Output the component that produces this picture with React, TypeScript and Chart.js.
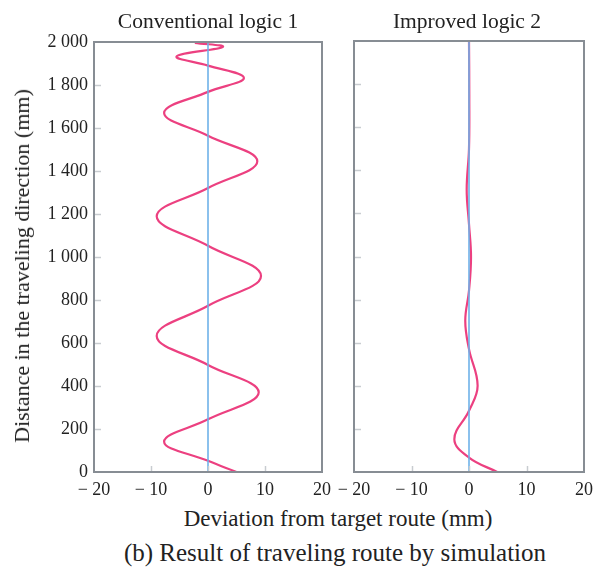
import React, { useEffect, useRef } from "react";
import { Chart, registerables } from "chart.js";

Chart.register(...registerables);

// Left panel: conventional logic 1 (distance mm, deviation mm)
const convDistance = [0, 52, 141, 245, 371, 498, 633, 773, 912, 1052, 1189, 1321, 1445, 1564, 1670, 1768, 1833, 1890, 1933, 1977, 1996];
const convDeviation = [5.0, 0, -7.7, 0, 8.9, 0, -9.0, 0, 9.3, 0, -9.0, 0, 8.65, 0, -7.7, 0, 6.3, 0, -5.5, 2.6, -2.3];

// Right panel: improved logic 2
const impDistance = [0, 67, 152, 284, 400, 570, 702, 842, 997, 1150, 1310, 1500, 1750, 2000];
const impDeviation = [4.9, 0, -2.55, 0, 1.5, 0, -0.65, 0, 0.35, 0, -0.4, 0, 0.05, 0];

const targetDistance = [0, 2000];
const targetDeviation = [0, 0];

const yTicks = [0, 200, 400, 600, 800, 1000, 1200, 1400, 1600, 1800, 2000];
const xTicks = [-20, -10, 0, 10, 20];

const panelTitles = ["Conventional logic 1", "Improved logic 2"];
const yTitle = "Distance in the traveling direction (mm)";
const xTitle = "Deviation from target route (mm)";
const caption = "(b) Result of traveling route by simulation";

const PINK = "rgb(236,64,128)";
const BLUE = "rgba(110,178,232,0.8)";
const FRAME = "rgb(135,141,148)";
const TICKC = "rgb(200,204,208)";
const FONT = "'Liberation Serif', 'Times New Roman', serif";

function fmtY(v: number): string {
  if (v >= 1000) {
    return `${Math.floor(v / 1000)} ${String(v % 1000).padStart(3, "0")}`;
  }
  return String(v);
}
function fmtX(v: number): string {
  return v < 0 ? `\u2212 ${Math.abs(v)}` : String(v);
}

const framePlugin = {
  id: "frameTicks",
  afterDraw(chart: any) {
    const { ctx, chartArea } = chart;
    const { left, right, top, bottom } = chartArea;
    const ys = chart.scales.y;
    const xs = chart.scales.x;
    ctx.save();
    ctx.strokeStyle = TICKC;
    ctx.lineWidth = 1.5;
    yTicks.forEach((v) => {
      if (v === 0 || v === 2000) return;
      const py = Math.round(ys.getPixelForValue(v)) + 0.5;
      ctx.beginPath();
      ctx.moveTo(left, py);
      ctx.lineTo(left + 7, py);
      ctx.stroke();
    });
    xTicks.forEach((v) => {
      if (v === -20 || v === 20) return;
      const px = Math.round(xs.getPixelForValue(v)) + 0.5;
      ctx.beginPath();
      ctx.moveTo(px, bottom);
      ctx.lineTo(px, bottom - 6);
      ctx.stroke();
    });
    ctx.strokeStyle = FRAME;
    ctx.lineWidth = 2;
    ctx.strokeRect(left, top, right - left, bottom - top);
    ctx.restore();
  },
};

function makeConfig(dist: number[], dev: number[], showYLabels: boolean, yWidth: number, pad: any): any {
  return {
    type: "scatter",
    data: {
      datasets: [
        {
          data: targetDistance.map((d, i) => ({ x: targetDeviation[i], y: d })),
          showLine: true,
          borderColor: BLUE,
          borderWidth: 2,
          pointRadius: 0,
        },
        {
          data: dist.map((d, i) => ({ x: dev[i], y: d })),
          showLine: true,
          borderColor: PINK,
          borderWidth: 2.2,
          pointRadius: 0,
          tension: 0.4,
        },
      ],
    },
    options: {
      responsive: false,
      animation: false,
      layout: { padding: pad },
      plugins: { legend: { display: false }, tooltip: { enabled: false } },
      scales: {
        x: {
          type: "linear",
          min: -20,
          max: 20,
          afterBuildTicks: (s: any) => {
            s.ticks = xTicks.map((v) => ({ value: v }));
          },
          afterFit: (s: any) => {
            s.height = 28;
          },
          grid: { display: false, drawTicks: false },
          border: { display: false },
          ticks: {
            padding: 7,
            maxRotation: 0,
            autoSkip: false,
            color: "#222",
            font: { family: FONT, size: 18 },
            callback: (v: number) => fmtX(v),
          },
        },
        y: {
          type: "linear",
          min: 0,
          max: 2000,
          afterBuildTicks: (s: any) => {
            s.ticks = yTicks.map((v) => ({ value: v }));
          },
          afterFit: (s: any) => {
            s.width = yWidth;
          },
          grid: { display: false, drawTicks: false },
          border: { display: false },
          ticks: {
            display: showYLabels,
            padding: 6,
            autoSkip: false,
            color: "#222",
            font: { family: FONT, size: 18 },
            callback: (v: number) => fmtY(v),
          },
        },
      },
    },
    plugins: [framePlugin],
  };
}

export default function App() {
  const leftRef = useRef<HTMLCanvasElement>(null);
  const rightRef = useRef<HTMLCanvasElement>(null);

  useEffect(() => {
    const c1 = new Chart(leftRef.current!, makeConfig(convDistance, convDeviation, true, 94, { left: 0, right: 18, top: 42, bottom: 0 }));
    const c2 = new Chart(rightRef.current!, makeConfig(impDistance, impDeviation, false, 24, { left: 0, right: 26, top: 41, bottom: 0 }));
    return () => {
      c1.destroy();
      c2.destroy();
    };
  }, []);

  const txt: React.CSSProperties = {
    position: "absolute",
    fontFamily: FONT,
    color: "#222",
    whiteSpace: "nowrap",
    lineHeight: 1,
  };

  return (
    <div style={{ position: "absolute", left: 0, top: 0, width: 610, height: 568, background: "#fff" }}>
      <canvas ref={leftRef} width={340} height={500} style={{ position: "absolute", left: 0, top: 0 }} />
      <canvas ref={rightRef} width={280} height={500} style={{ position: "absolute", left: 330, top: 0 }} />
      <div style={{ ...txt, left: 208, top: 11, fontSize: 21.5, transform: "translateX(-50%)" }}>{panelTitles[0]}</div>
      <div style={{ ...txt, left: 467, top: 11, fontSize: 21.5, transform: "translateX(-50%)" }}>{panelTitles[1]}</div>
      <div
        style={{
          ...txt,
          left: 22,
          top: 266,
          fontSize: 22,
          transform: "translate(-50%, -50%) rotate(-90deg)",
        }}
      >
        {yTitle}
      </div>
      <div style={{ ...txt, left: 338, top: 507, fontSize: 23, transform: "translateX(-50%)" }}>{xTitle}</div>
      <div style={{ ...txt, left: 335, top: 540, fontSize: 25, transform: "translateX(-50%)" }}>{caption}</div>
    </div>
  );
}
